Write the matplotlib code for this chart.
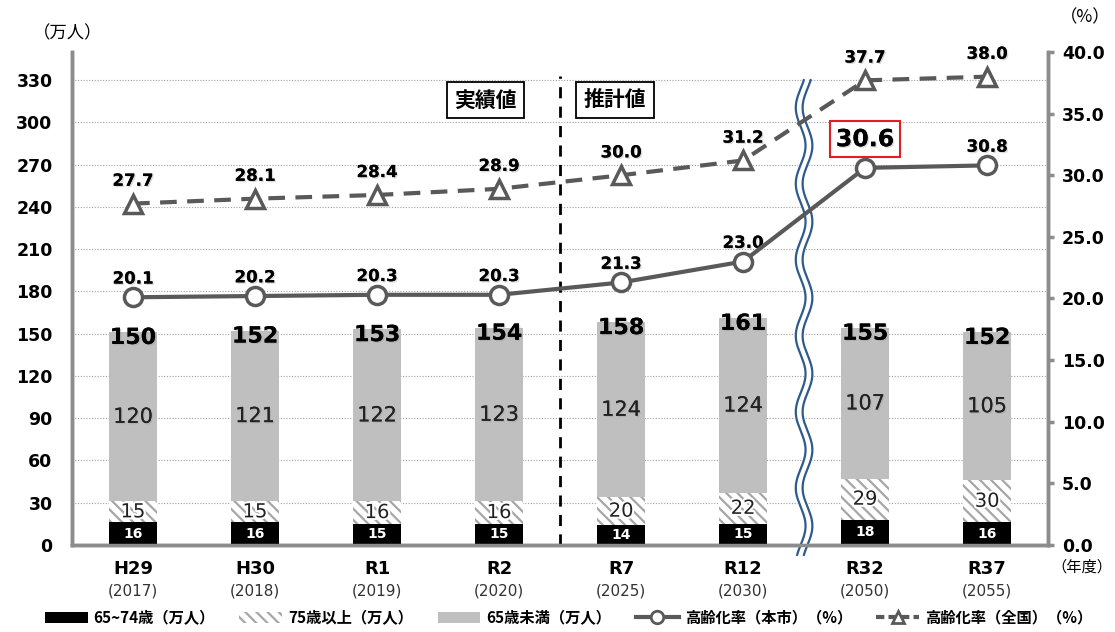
import numpy as np
import matplotlib.pyplot as plt
import matplotlib.patheffects as pe
from matplotlib.lines import Line2D
from matplotlib.patches import Patch

plt.rcParams['font.family'] = ['DejaVu Sans', 'Noto Sans CJK JP']
plt.rcParams['hatch.linewidth'] = 1.6
JP = ['Noto Sans CJK JP', 'DejaVu Sans']

labels = ['H29', 'H30', 'R1', 'R2', 'R7', 'R12', 'R32', 'R37']
years = ['(2017)', '(2018)', '(2019)', '(2020)', '(2025)', '(2030)', '(2050)', '(2055)']
age65_74 = [16, 16, 15, 15, 14, 15, 18, 16]
age75 = [15, 15, 16, 16, 20, 22, 29, 30]
under65 = [120, 121, 122, 123, 124, 124, 107, 105]
totals = [150, 152, 153, 154, 158, 161, 155, 152]
rate_city = [20.1, 20.2, 20.3, 20.3, 21.3, 23.0, 30.6, 30.8]
rate_nation = [27.7, 28.1, 28.4, 28.9, 30.0, 31.2, 37.7, 38.0]

gray_line = '#595959'
axis_gray = '#8C8C8C'
hatch_gray = '#A6A6A6'
shadow = [pe.withSimplePatchShadow(offset=(1, -1), shadow_rgbFace='#999999', alpha=0.35), pe.Normal()]

fig = plt.figure(figsize=(11.15, 6.32), dpi=100)
ax = fig.add_axes([0.0646, 0.1377, 0.8754, 0.78])
ax2 = ax.twinx()

x = np.arange(len(labels))
w = 0.39
b1 = np.array(age65_74)
b2 = b1 + np.array(age75)
ax.bar(x, age65_74, w, color='black', zorder=3)
ax.bar(x, age75, w, bottom=b1, color='white', edgecolor=hatch_gray, linewidth=0,
       hatch='\\\\\\', zorder=3)
ax.bar(x, under65, w, bottom=b2, color='#BFBFBF', zorder=3)

glow = [pe.withStroke(linewidth=3, foreground='white')]
for i in x:
    ax.text(i, age65_74[i] / 2, str(age65_74[i]), ha='center', va='center',
            color='white', fontsize=10, fontweight='bold', zorder=5)
    ax.text(i, b1[i] + age75[i] / 2, str(age75[i]), ha='center', va='center',
            color='#222222', fontsize=14, zorder=5, path_effects=glow)
    ax.text(i, b2[i] + under65[i] / 2, str(under65[i]), ha='center', va='center',
            color='#222222', fontsize=15, zorder=5, path_effects=shadow)
    ax.text(i, b2[i] + under65[i] - 4, str(totals[i]), ha='center', va='center',
            color='black', fontsize=16, fontweight='bold', zorder=5, path_effects=shadow)

ax.set_xlim(-0.5, 7.5)
ax.set_ylim(0, 350)
ax.set_yticks(range(0, 331, 30))
ax.grid(axis='y', linestyle=(0, (1, 1.5)), color='#A0A0A0', linewidth=0.8, zorder=0)
ax.set_axisbelow(True)
ax.tick_params(axis='y', length=0, labelsize=12.5, pad=14)
for t in ax.get_yticklabels():
    t.set_fontweight('bold')
ax.set_xticks(x)
ax.set_xticklabels(labels, fontsize=13, fontweight='bold')
ax.tick_params(axis='x', length=0, pad=11)
for i in x:
    ax.annotate(years[i], xy=(i, 0), xycoords=('data', 'axes fraction'),
                xytext=(0, -28), textcoords='offset points', ha='center', va='top',
                fontsize=11, color='#333333')

for s in ['top']:
    ax.spines[s].set_visible(False)
    ax2.spines[s].set_visible(False)
for a in (ax, ax2):
    for s in ['left', 'right', 'bottom']:
        a.spines[s].set_color(axis_gray)
        a.spines[s].set_linewidth(2.5)

# dividing line between actual and projected values
ax.plot([3.5, 3.5], [0, 333], color='black', linestyle=(0, (4, 3)), linewidth=2, zorder=4)
box = dict(boxstyle='square,pad=0.35', facecolor='white', edgecolor='black', linewidth=1.3)
ax.text(2.89, 316, '実績値', ha='center', va='center', fontsize=15, fontweight='bold',
        family=JP, bbox=box, zorder=6)
ax.text(3.95, 316, '推計値', ha='center', va='center', fontsize=15, fontweight='bold',
        family=JP, bbox=box, zorder=6)

# wavy break mark
yy = np.linspace(-7, 330, 400)
xx = 5.5 + 0.04 * np.sin(2 * np.pi * yy / 54)
ax.plot(xx, yy, color='white', linewidth=7, zorder=4, clip_on=False, solid_capstyle='butt')
ax.plot(xx - 0.028, yy, color='#2E5A8C', linewidth=1.6, zorder=4, clip_on=False)
ax.plot(xx + 0.028, yy, color='#2E5A8C', linewidth=1.6, zorder=4, clip_on=False)

# rate lines
ax2.plot(x, rate_nation, color=gray_line, linewidth=3, linestyle=(0, (4, 2.5)),
         marker='^', markersize=13, markerfacecolor='white', markeredgecolor=gray_line,
         markeredgewidth=2.5, zorder=5)
ax2.plot(x, rate_city, color=gray_line, linewidth=3, marker='o', markersize=13,
         markerfacecolor='white', markeredgecolor=gray_line, markeredgewidth=2.5, zorder=5)
for i in x:
    ax2.annotate(f'{rate_nation[i]:.1f}', (i, rate_nation[i]), xytext=(0, 10),
                 textcoords='offset points', ha='center', va='bottom', fontsize=12,
                 fontweight='bold', path_effects=shadow)
    if i == 6:
        ax2.annotate(f'{rate_city[i]:.1f}', (i, rate_city[i]), xytext=(0, 12),
                     textcoords='offset points', ha='center', va='bottom', fontsize=17,
                     fontweight='bold', path_effects=shadow,
                     bbox=dict(boxstyle='square,pad=0.25', facecolor='white',
                               edgecolor='#E02020', linewidth=1.5))
    else:
        ax2.annotate(f'{rate_city[i]:.1f}', (i, rate_city[i]), xytext=(0, 7),
                     textcoords='offset points', ha='center', va='bottom', fontsize=12,
                     fontweight='bold', path_effects=shadow)

ax2.set_ylim(0, 40)
ax2.set_yticks(np.arange(0, 40.1, 5))
ax2.set_yticklabels([f'{v:.1f}' for v in np.arange(0, 40.1, 5)], fontsize=12.5, fontweight='bold')
ax2.tick_params(axis='y', length=4, width=2.5, color=axis_gray, pad=6)

fig.text(0.061, 0.948, '（万人）', fontsize=12.5, family=JP, ha='center', va='center')
fig.text(0.973, 0.972, '（%）', fontsize=12.5, family=JP, ha='center', va='center')
fig.text(0.970, 0.103, '（年度）', fontsize=11, family=JP, ha='center', va='center')

handles = [
    Patch(facecolor='black', label='65~74歳（万人）'),
    Patch(facecolor='white', edgecolor=hatch_gray, linewidth=0, hatch='\\\\\\', label='75歳以上（万人）'),
    Patch(facecolor='#BFBFBF', label='65歳未満（万人）'),
    Line2D([], [], color=gray_line, linewidth=3, marker='o', markersize=9,
           markerfacecolor='white', markeredgewidth=2, label='高齢化率（本市）（%）'),
    Line2D([], [], color=gray_line, linewidth=3, linestyle=(0, (2, 1)), marker='^',
           markersize=9, markerfacecolor='white', markeredgewidth=2, label='高齢化率（全国）（%）'),
]
fig.legend(handles=handles, loc='lower center', ncol=5, frameon=False,
           bbox_to_anchor=(0.51, -0.012), columnspacing=1.6, handlelength=2.8,
           handletextpad=0.4, prop={'family': JP, 'size': 11, 'weight': 'bold'})

fig.savefig('out.png', dpi=100)
